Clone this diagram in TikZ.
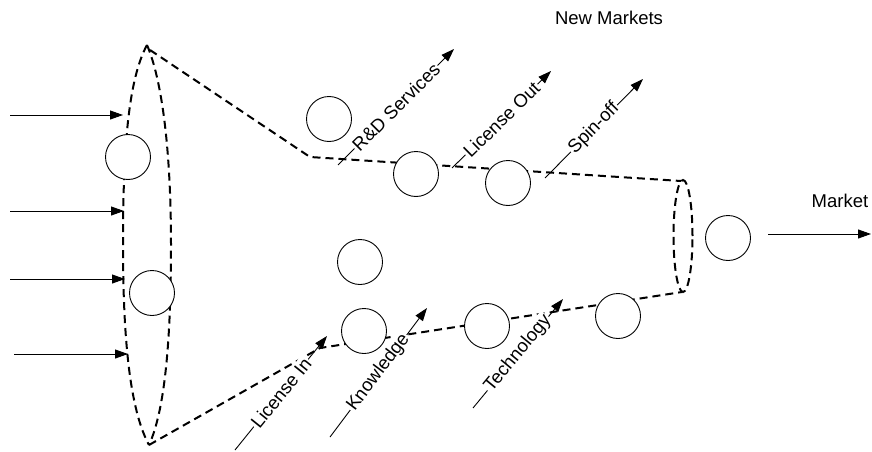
\documentclass[tikz,border=0pt]{standalone}
\usepackage{fontspec}
\setmainfont{Liberation Sans}
\usetikzlibrary{arrows.meta}
\tikzset{
  funnel/.style={line width=2pt, dash pattern=on 8pt off 5pt},
  unit/.style={circle, draw, line width=0.9pt, fill=white, minimum size=45pt, inner sep=0pt},
  flow/.style={line width=0.9pt, -{Triangle[length=13pt,width=9pt]}},
  txt/.style={font=\fontsize{18.5}{21}\selectfont},
  tag/.style={txt, fill=white, inner sep=1pt, sloped}
}
\begin{document}
\begin{tikzpicture}[x=1pt,y=-1pt]
  \useasboundingbox (0,0) rectangle (872,452);
  % funnel
  \coordinate (T) at (147,45);
  \coordinate (B) at (149,445);
  \coordinate (Tk) at (310,157);
  \coordinate (Bk) at (320,348);
  \coordinate (Te) at (681,181);
  \coordinate (Be) at (682,292);
  \draw[funnel] (T) .. controls (128,80) and (123,150) .. (123,245)
    .. controls (123,340) and (130,410) .. (B);
  \draw[funnel] (T) .. controls (162,80) and (171,150) .. (171,245)
    .. controls (171,340) and (165,410) .. (B);
  \draw[funnel] (150,50) -- (Tk) -- (Te);
  \draw[funnel] (B) -- (Bk) -- (Be);
  \draw[funnel] (683,236) ellipse (9.5pt and 56pt);
  % firms
  \node[unit] (c1) at (128,157) {};
  \node[unit] (c2) at (152,293) {};
  \node[unit] (c3) at (329,119) {};
  \node[unit] (c4) at (416,174) {};
  \node[unit] (c5) at (508,183) {};
  \node[unit] (c6) at (360,262) {};
  \node[unit] (c7) at (364,331) {};
  \node[unit] (c8) at (487,326) {};
  \node[unit] (c9) at (618,316) {};
  \node[unit] (mk) at (728,238) {};
  % inputs
  \coordinate (i1) at (10,115);  \coordinate (e1) at (123,115);
  \coordinate (i2) at (10,211);  \coordinate (e2) at (124,211);
  \coordinate (i3) at (10,279);  \coordinate (e3) at (125,279);
  \coordinate (i4) at (14,354);  \coordinate (e4) at (128,354);
  \draw[flow] (i1) -- (e1);
  \draw[flow] (i2) -- (e2);
  \draw[flow] (i3) -- (e3);
  \draw[flow] (i4) -- (e4);
  % outflows
  \coordinate (rd0) at (338,165);   \coordinate (rd1) at (454,49);
  \coordinate (lo0) at (452,168);   \coordinate (lo1) at (551,71);
  \coordinate (so0) at (545,178);   \coordinate (so1) at (643,79);
  \draw[flow] (rd0) -- node[tag] (rd) {R\&D Services} (rd1);
  \draw[flow] (lo0) -- node[tag] (lo) {License Out} (lo1);
  \draw[flow] (so0) -- node[tag] (so) {Spin-off} (so1);
  % inflows
  \coordinate (li0) at (235,450);   \coordinate (li1) at (327,336);
  \coordinate (kn0) at (330,437);   \coordinate (kn1) at (427,308);
  \coordinate (te0) at (473,408);   \coordinate (te1) at (563,299);
  \draw[flow] (li0) -- node[tag] (li) {License In} (li1);
  \draw[flow] (kn0) -- node[tag] (kn) {Knowledge} (kn1);
  \draw[flow] (te0) -- node[tag] (te) {Technology} (te1);
  % market
  \coordinate (m0) at (768,234);   \coordinate (m1) at (871,234);
  \draw[flow] (m0) -- (m1);
  \node[txt] (mkt) at (840,201) {Market};
  \node[txt] (nm) at (609,18) {New Markets};
\end{tikzpicture}
\end{document}
